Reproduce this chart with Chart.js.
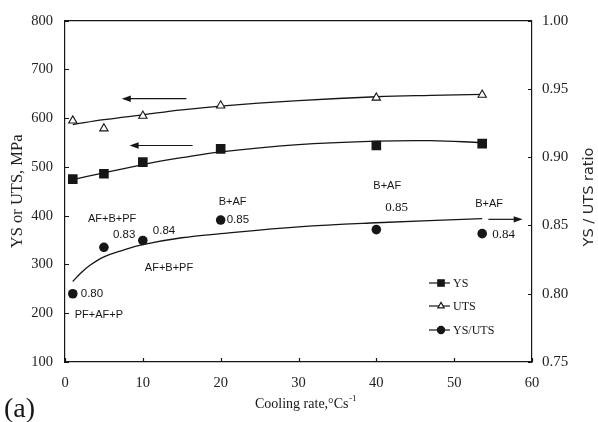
<!DOCTYPE html>
<html>
<head>
<meta charset="utf-8">
<script src="https://cdn.jsdelivr.net/npm/chart.js@4.4.1/dist/chart.umd.min.js"></script>
<style>
  html, body { margin: 0; padding: 0; background: #fff; }
  canvas { display: block; }
</style>
</head>
<body>
<canvas id="strength-chart" width="598" height="422"></canvas>
<script>
// Measured points per cooling rate
const coolingRates = [1, 5, 10, 20, 40, 53.6];
const ysValues = [475, 486, 510, 537, 544, 548];
const utsValues = [595, 579, 605, 626, 642, 648];
const ratioValues = [0.800, 0.834, 0.839, 0.854, 0.847, 0.844];
const microstructures = ['PF+AF+P', 'AF+B+PF', 'AF+B+PF', 'B+AF', 'B+AF', 'B+AF'];

// Fitted trend curves, read along the cooling rate
const trendRates = [1, 5, 10, 15, 20, 30, 40, 47, 53.6];
const ysTrend = [474, 488, 505, 519, 531, 546, 553, 554, 550];
const utsTrend = [587, 597, 607, 617, 625, 636, 644, 647, 649];
const ratioTrendRates = [1, 2, 3, 5, 7.5, 10, 15, 20, 30, 40, 53.6];
const ratioTrend = [0.809, 0.815, 0.820, 0.827, 0.832, 0.836, 0.841, 0.844, 0.849, 0.852, 0.855];

// Axis ranges
const xTicks = [0, 10, 20, 30, 40, 50, 60];
const strengthTicks = [100, 200, 300, 400, 500, 600, 700, 800];
const ratioTicks = [0.75, 0.80, 0.85, 0.90, 0.95, 1.00];

const ink = '#161616';
const serif = "'Liberation Serif', 'Times New Roman', serif";
const sans = "'Liberation Sans', Arial, sans-serif";

// Text placement around each YS/UTS point (pixel offsets from the marker)
const ratioLabelOffsets = [[8, 0], [9, -12], [10, -10], [6, 0], [9, -22], [10, 1]];
const ratioLabelFonts = [sans, sans, sans, sans, serif, serif];
const phaseLabelOffsets = [[2, 21], [-16, -28], [2, 27], [-2, -18], [-3, -44], [-7, -30]];

// Arrows pointing each curve to its axis, in data units
const arrows = [
    { axis: 'y', from: [15.6, 640], to: [7.3, 640] },
    { axis: 'y', from: [16.4, 544], to: [8.3, 544] },
    { axis: 'y1', from: [54.4, 0.8545], to: [58.8, 0.8545] }
];

const pairs = (xs, ys) => xs.map((x, i) => ({ x: x, y: ys[i] }));

const fixSize = (w, h) => function(scale) {
    if (w !== null) scale.width = w;
    if (h !== null) scale.height = h;
};

function drawArrow(ctx, x1, y1, x2, y2) {
    const ang = Math.atan2(y2 - y1, x2 - x1);
    const len = 9, half = 3.2;
    ctx.beginPath();
    ctx.moveTo(x1, y1);
    ctx.lineTo(x2 - Math.cos(ang) * len * 0.8, y2 - Math.sin(ang) * len * 0.8);
    ctx.stroke();
    ctx.beginPath();
    ctx.moveTo(x2, y2);
    ctx.lineTo(x2 - Math.cos(ang) * len + Math.sin(ang) * half, y2 - Math.sin(ang) * len - Math.cos(ang) * half);
    ctx.lineTo(x2 - Math.cos(ang) * len - Math.sin(ang) * half, y2 - Math.sin(ang) * len + Math.cos(ang) * half);
    ctx.closePath();
    ctx.fill();
}

const overlay = {
    id: 'overlay',
    afterDraw(chart) {
        const { ctx, chartArea: a, scales } = chart;
        ctx.save();
        ctx.strokeStyle = ink;
        ctx.fillStyle = ink;
        ctx.lineWidth = 1.2;

        // top frame line
        ctx.beginPath();
        ctx.moveTo(a.left, a.top);
        ctx.lineTo(a.right, a.top);
        ctx.stroke();

        // inward tick marks
        ctx.beginPath();
        scales.x.ticks.forEach(t => {
            const px = Math.round(scales.x.getPixelForValue(t.value)) + 0.5;
            ctx.moveTo(px, a.bottom);
            ctx.lineTo(px, a.bottom - 4);
        });
        scales.y.ticks.forEach(t => {
            const py = Math.round(scales.y.getPixelForValue(t.value)) + 0.5;
            ctx.moveTo(a.left, py);
            ctx.lineTo(a.left + 4, py);
        });
        scales.y1.ticks.forEach(t => {
            const py = Math.round(scales.y1.getPixelForValue(t.value)) + 0.5;
            ctx.moveTo(a.right, py);
            ctx.lineTo(a.right - 4, py);
        });
        ctx.stroke();

        // arrows
        arrows.forEach(ar => {
            const ys = scales[ar.axis];
            drawArrow(ctx,
                scales.x.getPixelForValue(ar.from[0]), ys.getPixelForValue(ar.from[1]),
                scales.x.getPixelForValue(ar.to[0]), ys.getPixelForValue(ar.to[1]));
        });

        // ratio values and microstructure next to the YS/UTS points
        const ratioMeta = chart.getDatasetMeta(2);
        ctx.textBaseline = 'middle';
        ctx.textAlign = 'left';
        ratioMeta.data.forEach((pt, i) => {
            ctx.font = (ratioLabelFonts[i] === serif ? '13px ' : '11.5px ') + ratioLabelFonts[i];
            ctx.fillText(ratioValues[i].toFixed(2), pt.x + ratioLabelOffsets[i][0], pt.y + ratioLabelOffsets[i][1]);
            ctx.font = '11px ' + sans;
            ctx.fillText(microstructures[i], pt.x + phaseLabelOffsets[i][0], pt.y + phaseLabelOffsets[i][1]);
        });

        // legend
        const legendRows = [
            { ds: 0, label: 'YS', y: 283 },
            { ds: 1, label: 'UTS', y: 306 },
            { ds: 2, label: 'YS/UTS', y: 330 }
        ];
        ctx.font = '12px ' + serif;
        legendRows.forEach(row => {
            const ds = chart.data.datasets[row.ds];
            ctx.beginPath();
            ctx.moveTo(429, row.y);
            ctx.lineTo(450, row.y);
            ctx.stroke();
            ctx.fillStyle = ds.pointBackgroundColor;
            Chart.helpers.drawPoint(ctx, {
                pointStyle: ds.pointStyle, radius: ds.pointStyle === 'rect' ? 4.5 : 3.6,
                rotation: 0, borderWidth: 1
            }, 441, row.y);
            ctx.fillStyle = ink;
            ctx.fillText(row.label, 453, row.y + 0.5);
        });

        // right axis title, reading bottom to top
        ctx.save();
        ctx.translate(589, 197);
        ctx.rotate(-Math.PI / 2);
        ctx.textAlign = 'center';
        ctx.font = "14.5px 'DejaVu Sans', sans-serif";
        ctx.fillStyle = '#2a2a2a';
        ctx.fillText('YS / UTS ratio', 0, 0);
        ctx.restore();

        // x axis title with superscript unit
        ctx.textBaseline = 'alphabetic';
        ctx.font = '14px ' + serif;
        const main = 'Cooling rate,\u00B0Cs';
        ctx.fillText(main, 255, 408);
        const w = ctx.measureText(main).width;
        ctx.font = '9px ' + serif;
        ctx.fillText('-1', 255 + w + 0.5, 401);

        // panel tag
        ctx.font = '28px ' + serif;
        ctx.fillText('(a)', 4, 417);
        ctx.restore();
    }
};

document.addEventListener('DOMContentLoaded', function() {
    const ctx = document.getElementById('strength-chart').getContext('2d');
    new Chart(ctx, {
        type: 'line',
        data: {
            datasets: [
                {
                    label: 'YS',
                    data: pairs(coolingRates, ysValues),
                    yAxisID: 'y',
                    showLine: false,
                    pointStyle: 'rect',
                    pointRadius: 6.8,
                    pointBackgroundColor: ink,
                    pointBorderColor: ink,
                    pointBorderWidth: 0
                },
                {
                    label: 'UTS',
                    data: pairs(coolingRates, utsValues),
                    yAxisID: 'y',
                    showLine: false,
                    pointStyle: 'triangle',
                    pointRadius: 4.8,
                    pointBackgroundColor: '#ffffff',
                    pointBorderColor: ink,
                    pointBorderWidth: 1.1
                },
                {
                    label: 'YS/UTS',
                    data: pairs(coolingRates, ratioValues),
                    yAxisID: 'y1',
                    showLine: false,
                    pointStyle: 'circle',
                    pointRadius: 4.8,
                    pointBackgroundColor: ink,
                    pointBorderColor: ink,
                    pointBorderWidth: 0
                },
                {
                    label: 'YS fit',
                    data: pairs(trendRates, ysTrend),
                    yAxisID: 'y',
                    borderColor: ink,
                    borderWidth: 1.3,
                    pointRadius: 0,
                    tension: 0.4
                },
                {
                    label: 'UTS fit',
                    data: pairs(trendRates, utsTrend),
                    yAxisID: 'y',
                    borderColor: ink,
                    borderWidth: 1.3,
                    pointRadius: 0,
                    tension: 0.4
                },
                {
                    label: 'YS/UTS fit',
                    data: pairs(ratioTrendRates, ratioTrend),
                    yAxisID: 'y1',
                    borderColor: ink,
                    borderWidth: 1.3,
                    pointRadius: 0,
                    tension: 0.4
                }
            ]
        },
        options: {
            responsive: false,
            animation: false,
            layout: { padding: { left: 0, right: 0, top: 16, bottom: 0 } },
            plugins: {
                legend: { display: false },
                tooltip: { enabled: false }
            },
            scales: {
                x: {
                    type: 'linear',
                    min: 0,
                    max: 60,
                    afterFit: fixSize(null, 60),
                    afterBuildTicks: s => { s.ticks = xTicks.map(v => ({ value: v })); },
                    grid: { drawOnChartArea: false, drawTicks: false },
                    border: { display: true, color: ink, width: 1.2 },
                    ticks: { padding: 12, color: '#222', font: { family: serif, size: 14.5 }, maxRotation: 0 }
                },
                y: {
                    position: 'left',
                    min: 100,
                    max: 800,
                    afterFit: fixSize(65, null),
                    afterBuildTicks: s => { s.ticks = strengthTicks.map(v => ({ value: v })); },
                    grid: { drawOnChartArea: false, drawTicks: false },
                    border: { display: true, color: ink, width: 1.2 },
                    ticks: { padding: 12, color: '#222', font: { family: serif, size: 14.5 } },
                    title: {
                        display: true,
                        text: 'YS or UTS, MPa',
                        color: '#222',
                        font: { family: serif, size: 16.5 },
                        padding: { top: 8, bottom: 0 }
                    }
                },
                y1: {
                    position: 'right',
                    min: 0.75,
                    max: 1.0,
                    afterFit: fixSize(66, null),
                    afterBuildTicks: s => { s.ticks = ratioTicks.map(v => ({ value: v })); },
                    grid: { drawOnChartArea: false, drawTicks: false },
                    border: { display: true, color: ink, width: 1.2 },
                    ticks: {
                        padding: 10,
                        color: '#222',
                        font: { family: serif, size: 15 },
                        callback: v => v.toFixed(2)
                    }
                }
            }
        },
        plugins: [overlay]
    });
});
</script>
</body>
</html>
